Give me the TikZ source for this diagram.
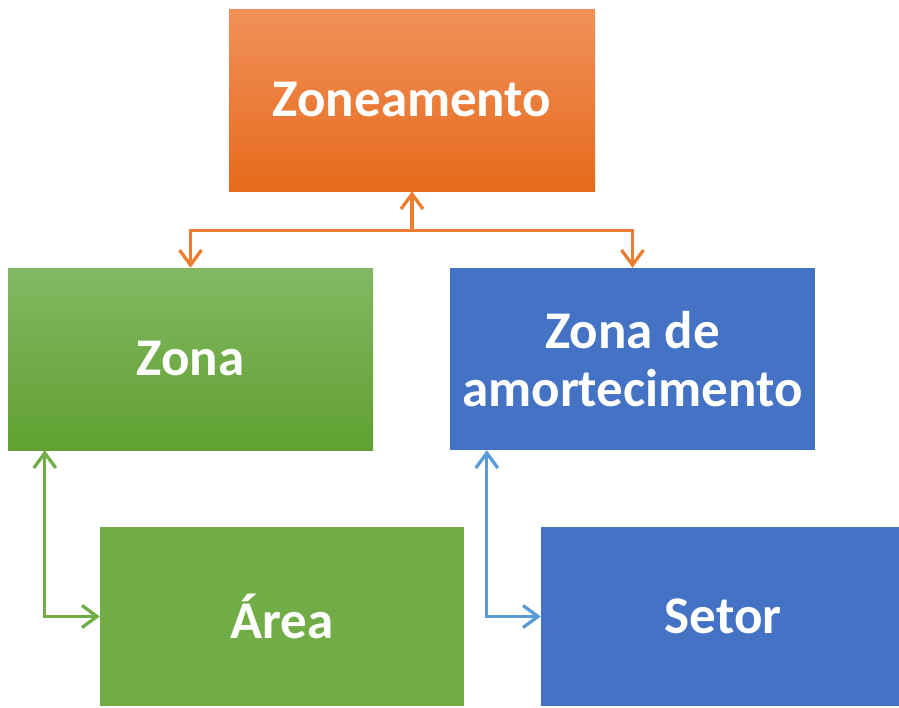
\documentclass[tikz,border=0pt]{standalone}
\usepackage{fontspec}
\setmainfont{Carlito}
\usepackage{tikz}
\usetikzlibrary{arrows.meta, positioning, calc}
\definecolor{zonorange}{RGB}{237,125,49}
\definecolor{zonorangetop}{RGB}{241,145,90}
\definecolor{zonorangebot}{RGB}{230,106,27}
\definecolor{zongreen}{RGB}{112,173,71}
\definecolor{zongreentop}{RGB}{130,184,99}
\definecolor{zongreenbot}{RGB}{96,160,48}
\definecolor{zonblue}{RGB}{68,114,196}
\definecolor{zonlightblue}{RGB}{91,155,213}
\tikzset{
  %% ---- boxes ----
  box/.style   = {rectangle, draw=none, text=white, align=center,
                  minimum width=#1, minimum height=182pt, inner sep=0pt,
                  font=\fontsize{53}{58}\selectfont\bfseries},
  box/.default = 365pt,
  %% ---- arrows ----
  link/.style  = {line width=3.3pt, color=#1,
                  >={Straight Barb[length=15pt, width=22pt, line width=3.3pt]}},
}

\begin{document}
\begin{tikzpicture}[x=1pt, y=-1pt]
\useasboundingbox (0,0) rectangle (899,707);
\node[box=366pt, top color=zonorangetop, bottom color=zonorangebot] (zon) at (412,100) {Zoneamento};
\node[box, top color=zongreentop, bottom color=zongreenbot] (zona) at (190.5,359) {Zona};
\node[box, fill=zonblue] (zamort) at (632.5,359) {Zona de\\amortecimento};
\node[box=364pt, minimum height=179pt, fill=zongreen] (area) at (282,616.5) {Área};
\node[box=364pt, minimum height=179pt, fill=zonblue] (setor) at (723,616.5) {Setor};
\coordinate (split) at ($(zon.south)+(0,39)$);
% zoneamento branches
\draw[link=zonorange, ->] (split) -- (zon.south);
\draw[link=zonorange, ->] (split) -| (zona.north);
\draw[link=zonorange, ->] (split) -| (zamort.north);
% lower pairs
\draw[link=zongreen, <->] ([xshift=37pt]zona.south west) |- (area.west);
\draw[link=zonlightblue, <->] ([xshift=37pt]zamort.south west) |- (setor.west);
\end{tikzpicture}
\end{document}
